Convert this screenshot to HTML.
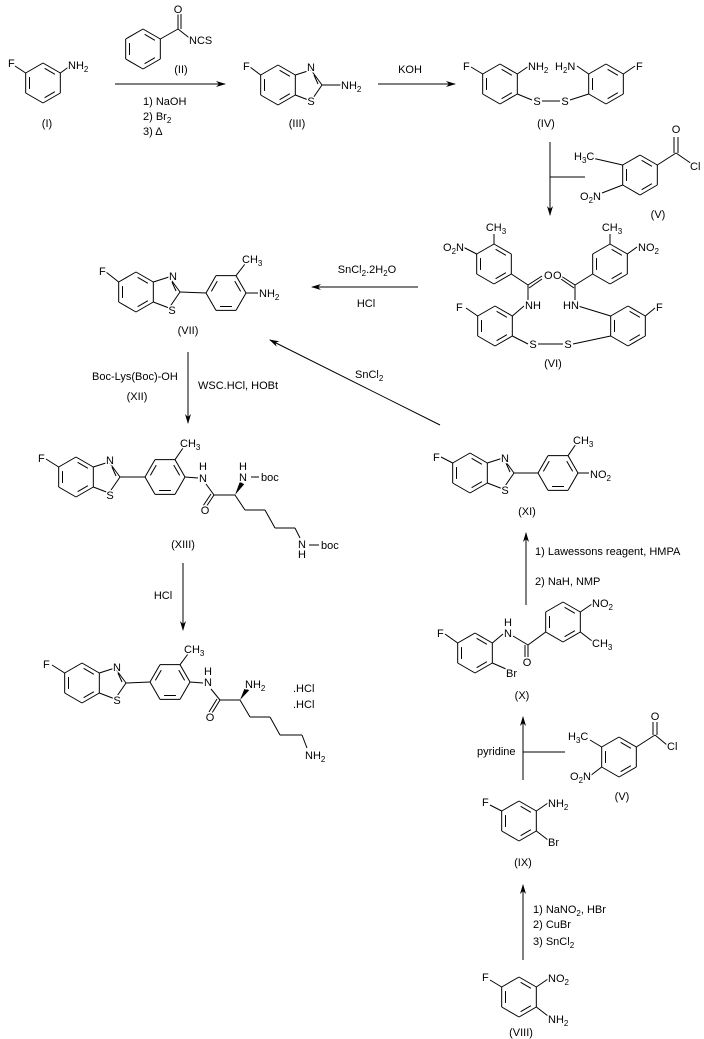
<!DOCTYPE html>
<html><head><meta charset="utf-8"><style>
html,body{margin:0;padding:0;background:#fff}
svg{display:block}
text{font-family:"Liberation Sans",sans-serif;font-size:11px;fill:#000;stroke:#fff;stroke-width:3px;paint-order:stroke;stroke-linejoin:round}
text.m{text-anchor:middle}
line,polyline,polygon.r{stroke:#000;stroke-width:1;fill:none}
</style></head><body>
<svg id="s" width="704" height="1039" viewBox="0 0 704 1039" xmlns="http://www.w3.org/2000/svg">
<defs><marker id="a" markerWidth="10" markerHeight="8" refX="9" refY="4" orient="auto" markerUnits="userSpaceOnUse"><path d="M0,1 L10,4 L0,7 L3,4Z" fill="#000"/></marker></defs>
<g id="g"></g>
<!-- arrows -->
<line x1="115" y1="84" x2="225" y2="84" marker-end="url(#a)"/>
<line x1="378" y1="84" x2="455" y2="84" marker-end="url(#a)"/>
<line x1="550" y1="142" x2="550" y2="215" marker-end="url(#a)"/>
<line x1="550" y1="177" x2="585" y2="177"/>
<line x1="418" y1="287" x2="312" y2="287" marker-end="url(#a)"/>
<line x1="188" y1="352" x2="188" y2="423" marker-end="url(#a)"/>
<line x1="440" y1="425" x2="270" y2="340" marker-end="url(#a)"/>
<line x1="183" y1="563" x2="183" y2="630" marker-end="url(#a)"/>
<line x1="526" y1="605" x2="526" y2="533" marker-end="url(#a)"/>
<line x1="523" y1="780" x2="523" y2="717" marker-end="url(#a)"/>
<line x1="523" y1="752" x2="565" y2="752"/>
<line x1="523" y1="960" x2="523" y2="885" marker-end="url(#a)"/>

<!-- (I) -->
<text x="8" y="67">F</text><text x="68" y="69">NH<tspan font-size="8" dy="3">2</tspan></text>
<text class="m" x="47" y="127">(I)</text>
<!-- (II) -->
<text class="m" x="178" y="13">O</text><text x="189" y="44">NCS</text><text class="m" x="181" y="73">(II)</text>
<text x="143" y="105">1) NaOH</text><text x="143" y="120">2) Br<tspan font-size="8" dy="3">2</tspan></text><text x="143" y="135">3) Δ</text>
<!-- (III) -->
<text x="243" y="70">F</text><text class="m" x="311" y="71">N</text><text class="m" x="311" y="105">S</text>
<text x="341" y="89">NH<tspan font-size="8" dy="3">2</tspan></text><text class="m" x="297" y="127">(III)</text>
<text class="m" x="410" y="73">KOH</text>
<!-- (IV) -->
<text x="463" y="70">F</text><text x="528" y="70">NH<tspan font-size="8" dy="3">2</tspan></text>
<text x="555" y="70">H<tspan font-size="8" dy="3">2</tspan><tspan dy="-3">N</tspan></text>
<text x="636" y="70">F</text><text class="m" x="537" y="105">S</text><text class="m" x="565" y="105">S</text>
<text class="m" x="546" y="127">(IV)</text>
<!-- (V) top -->
<text x="574" y="160">H<tspan font-size="8" dy="3">3</tspan><tspan dy="-3">C</tspan></text>
<text class="m" x="676" y="133">O</text><text x="690" y="170">Cl</text>
<text x="580" y="200">O<tspan font-size="8" dy="3">2</tspan><tspan dy="-3">N</tspan></text>
<text class="m" x="658" y="218">(V)</text>
<!-- (VI) -->
<text class="m" x="496" y="231">CH<tspan font-size="8" dy="3">3</tspan></text>
<text x="443" y="251">O<tspan font-size="8" dy="3">2</tspan><tspan dy="-3">N</tspan></text>
<text x="544" y="279">O</text><text x="553" y="279">O</text>
<text x="525" y="309">NH</text><text x="563" y="309">HN</text>
<text x="456" y="311">F</text><text x="656" y="311">F</text>
<text class="m" x="533" y="348">S</text><text class="m" x="568" y="348">S</text>
<text class="m" x="612" y="231">CH<tspan font-size="8" dy="3">3</tspan></text>
<text x="638" y="251">NO<tspan font-size="8" dy="3">2</tspan></text>
<text class="m" x="553" y="367">(VI)</text>
<text class="m" x="367" y="273">SnCl<tspan font-size="8" dy="3">2</tspan><tspan dy="-3">.2H</tspan><tspan font-size="8" dy="3">2</tspan><tspan dy="-3">O</tspan></text>
<text class="m" x="366" y="307">HCl</text>
<!-- (VII) -->
<text x="99" y="275">F</text><text class="m" x="173" y="280">N</text><text class="m" x="172" y="314">S</text>
<text x="242" y="263">CH<tspan font-size="8" dy="3">3</tspan></text>
<text x="259" y="297">NH<tspan font-size="8" dy="3">2</tspan></text>
<text class="m" x="188" y="334">(VII)</text>
<text x="92" y="380">Boc-Lys(Boc)-OH</text><text class="m" x="137" y="400">(XII)</text>
<text x="198" y="389">WSC.HCl, HOBt</text>
<text x="355" y="378">SnCl<tspan font-size="8" dy="3">2</tspan></text>
<!-- (XIII) -->
<text x="38" y="462">F</text><text class="m" x="110" y="464">N</text><text class="m" x="110" y="499">S</text>
<text x="180" y="447">CH<tspan font-size="8" dy="3">3</tspan></text>
<text class="m" x="203" y="470">H</text><text class="m" x="203" y="482">N</text>
<text class="m" x="205" y="514">O</text>
<text class="m" x="243" y="470">H</text><text class="m" x="243" y="481">N</text><text x="261" y="481">boc</text>
<text class="m" x="302" y="548">N</text><text class="m" x="302" y="558">H</text><text x="321" y="549">boc</text>
<text class="m" x="183" y="548">(XIII)</text>
<text class="m" x="163" y="599">HCl</text>
<!-- final -->
<text x="43" y="668">F</text><text class="m" x="117" y="671">N</text><text class="m" x="117" y="704">S</text>
<text x="184" y="653">CH<tspan font-size="8" dy="3">3</tspan></text>
<text class="m" x="208" y="675">H</text><text class="m" x="208" y="686">N</text>
<text class="m" x="210" y="721">O</text>
<text x="245" y="688">NH<tspan font-size="8" dy="3">2</tspan></text>
<text x="293" y="692">.HCl</text><text x="293" y="708">.HCl</text>
<text x="305" y="759">NH<tspan font-size="8" dy="3">2</tspan></text>
<!-- (XI) -->
<text x="433" y="461">F</text><text class="m" x="505" y="462">N</text><text class="m" x="505" y="494">S</text>
<text x="573" y="444">CH<tspan font-size="8" dy="3">3</tspan></text>
<text x="590" y="478">NO<tspan font-size="8" dy="3">2</tspan></text>
<text class="m" x="527" y="515">(XI)</text>
<text x="535" y="555">1) Lawessons reagent, HMPA</text>
<text x="535" y="585">2) NaH, NMP</text>
<!-- (X) -->
<text x="437" y="637">F</text><text class="m" x="508" y="626">H</text><text class="m" x="508" y="637">N</text>
<text class="m" x="527" y="666">O</text><text x="506" y="677">Br</text>
<text x="592" y="607">NO<tspan font-size="8" dy="3">2</tspan></text>
<text x="592" y="647">CH<tspan font-size="8" dy="3">3</tspan></text>
<text class="m" x="522" y="699">(X)</text>
<text x="477" y="755">pyridine</text>
<!-- (V) lower -->
<text class="m" x="655" y="720">O</text>
<text x="568" y="740">H<tspan font-size="8" dy="3">3</tspan><tspan dy="-3">C</tspan></text>
<text x="667" y="750">Cl</text>
<text x="570" y="780">O<tspan font-size="8" dy="3">2</tspan><tspan dy="-3">N</tspan></text>
<text class="m" x="622" y="800">(V)</text>
<!-- (IX) -->
<text x="482" y="806">F</text><text x="548" y="807">NH<tspan font-size="8" dy="3">2</tspan></text>
<text x="548" y="846">Br</text><text class="m" x="523" y="866">(IX)</text>
<text x="533" y="913">1) NaNO<tspan font-size="8" dy="3">2</tspan><tspan dy="-3">, HBr</tspan></text>
<text x="533" y="928">2) CuBr</text>
<text x="533" y="945">3) SnCl<tspan font-size="8" dy="3">2</tspan></text>
<!-- (VIII) -->
<text x="482" y="981">F</text><text x="548" y="982">NO<tspan font-size="8" dy="3">2</tspan></text>
<text x="548" y="1023">NH<tspan font-size="8" dy="3">2</tspan></text>
<text class="m" x="521" y="1036">(VIII)</text>
</svg>
<script>
var G=document.getElementById('g'),NS='http://www.w3.org/2000/svg';
function L(a,b,c,d){var e=document.createElementNS(NS,'line');e.setAttribute('x1',a);e.setAttribute('y1',b);e.setAttribute('x2',c);e.setAttribute('y2',d);G.appendChild(e);}
function P(pts){for(var i=0;i<pts.length-1;i++)L(pts[i][0],pts[i][1],pts[i+1][0],pts[i+1][1]);}
function V(cx,cy,t){var r=20,v=[];for(var i=0;i<6;i++){var a=(t=='h'?0:-90)+60*i;a*=Math.PI/180;v.push([cx+r*Math.cos(a),cy+r*Math.sin(a)]);}return v;}
function ring(cx,cy,t,d){var v=V(cx,cy,t);d=d||[0,2,4];for(var i=0;i<6;i++){var p=v[i],q=v[(i+1)%6];L(p[0],p[1],q[0],q[1]);}
 d.forEach(function(i){var p=v[i],q=v[(i+1)%6],k=0.78;var p2=[cx+(p[0]-cx)*k,cy+(p[1]-cy)*k],q2=[cx+(q[0]-cx)*k,cy+(q[1]-cy)*k];var f=0.12;
 L(p2[0]+(q2[0]-p2[0])*f,p2[1]+(q2[1]-p2[1])*f,q2[0]-(q2[0]-p2[0])*f,q2[1]-(q2[1]-p2[1])*f);});return v;}
function thz(cx,cy){var N=[cx+33,cy-15],C=[cx+44,cy],S=[cx+33,cy+16];P([[cx+17.3,cy-10],N,C,S,[cx+17.3,cy+10]]);L(N[0]+3,N[1]+5,C[0]-4,C[1]-1);return C;}
function wedge(x1,y1,x2,y2){var e=document.createElementNS(NS,'polygon');var dx=y2-y1,dy=x1-x2,l=Math.hypot(dx,dy);dx=dx/l*2.5;dy=dy/l*2.5;e.setAttribute('points',x1+','+y1+' '+(x2+dx)+','+(y2+dy)+' '+(x2-dx)+','+(y2-dy));e.setAttribute('fill','#000');G.appendChild(e);}
var v;
// I
v=ring(43,83,'v');L(v[5][0],v[5][1],15,66);L(v[1][0],v[1][1],70,66);
// II
v=ring(143,49,'v');P([v[1],[178,29],[192,40]]);L(178,29,178,14);L(181,29,181,14);
// III
v=ring(278,85,'v');L(v[5][0],v[5][1],250,67);var c=thz(278,85);L(c[0],c[1],341,85);
// IV
v=ring(500,84,'v');L(v[5][0],v[5][1],471,67);L(v[1][0],v[1][1],529,66);P([v[2],[532,100]]);L(542,101,560,101);
v=ring(606,84,'v');L(v[5][0],v[5][1],577,66);L(v[1][0],v[1][1],635,66);P([v[4],[570,100]]);
// V top
v=ring(640,175,'v');L(v[5][0],v[5][1],592,158);L(v[4][0],v[4][1],602,193);P([v[1],[676,153],[692,164]]);L(674,153,674,137);L(678,153,678,137);
// VI
v=ring(494,264,'v');L(v[0][0],v[0][1],494,234);L(v[5][0],v[5][1],463,247);P([v[2],[528,285],[528,300]]);L(528,285,542,276);L(529,288,542,279);
var b=ring(495,326,'v');L(b[1][0],b[1][1],524,306);L(b[5][0],b[5][1],466,308);P([b[2],[528,344]]);L(538,344,563,344);
v=ring(610,264,'v');L(v[0][0],v[0][1],610,234);L(v[1][0],v[1][1],637,247);P([v[4],[575,285],[575,300]]);L(575,285,561,276);L(574,288,561,279);
b=ring(628,326,'v');L(b[5][0],b[5][1],578,306);L(b[1][0],b[1][1],655,308);P([b[4],[573,344]]);
// VII
v=ring(136,292,'v');L(v[5][0],v[5][1],106,272);c=thz(136,292);var h=ring(226,293,'h',[1,3,5]);L(c[0],c[1],h[3][0],h[3][1]);
L(h[5][0],h[5][1],245,264);L(h[0][0],h[0][1],258,293);
// XIII
v=ring(76,477,'v');L(v[5][0],v[5][1],46,459);c=thz(76,477);h=ring(165,477,'h',[1,3,5]);L(c[0],c[1],h[3][0],h[3][1]);
L(h[5][0],h[5][1],183,448);L(h[0][0],h[0][1],198,478);P([[206,484],[214,495],[235,495]]);L(214,495,206,507);L(211,494,203,506);
wedge(235,495,242,483);P([[235,495],[245,510],[265,510],[275,528],[295,528],[300,538]]);L(251,477,259,477);L(309,545,319,545);
// final
v=ring(82,683,'v');L(v[5][0],v[5][1],52,665);c=thz(82,683);h=ring(170,682,'h',[1,3,5]);L(c[0],c[1],h[3][0],h[3][1]);
L(h[5][0],h[5][1],188,654);L(h[0][0],h[0][1],203,683);P([[211,689],[220,700],[240,700]]);L(220,700,212,713);L(217,699,209,712);
wedge(240,700,247,689);P([[240,700],[250,717],[270,717],[280,735],[302,735],[307,748]]);
// XI
v=ring(470,473,'v');L(v[5][0],v[5][1],441,457);c=thz(470,473);h=ring(558,473,'h',[1,3,5]);L(c[0],c[1],h[3][0],h[3][1]);
L(h[5][0],h[5][1],576,444);L(h[0][0],h[0][1],589,473);
// X
v=ring(475,653,'v');L(v[5][0],v[5][1],445,634);L(v[1][0],v[1][1],503,634);L(v[2][0],v[2][1],506,669);
var r2=ring(563,622,'v');P([[513,636],[528,645],r2[4]]);L(528,645,528,657);L(525,645,525,657);
L(r2[1][0],r2[1][1],592,604);L(r2[2][0],r2[2][1],592,641);
// V lower
v=ring(619,757,'v');L(v[5][0],v[5][1],590,740);L(v[4][0],v[4][1],590,776);P([v[1],[655,735],[667,745]]);L(653,735,653,722);L(657,735,657,722);
// IX
v=ring(519,821,'v');L(v[5][0],v[5][1],490,805);L(v[1][0],v[1][1],548,803);L(v[2][0],v[2][1],548,840);
// VIII
v=ring(519,997,'v');L(v[5][0],v[5][1],490,980);L(v[1][0],v[1][1],548,979);L(v[2][0],v[2][1],548,1016);
</script>
</body></html>
